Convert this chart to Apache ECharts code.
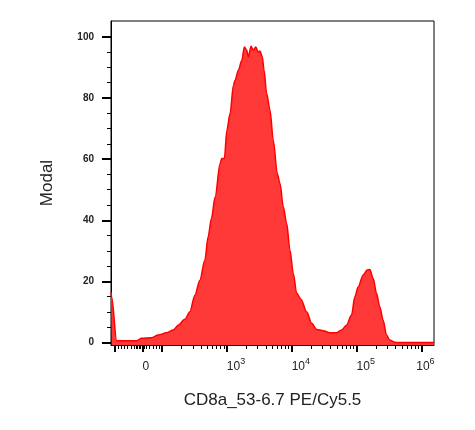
<!DOCTYPE html>
<html>
<head>
<meta charset="utf-8">
<script src="https://cdn.jsdelivr.net/npm/echarts@6/dist/echarts.min.js"></script>
<style>
  html, body { margin: 0; padding: 0; background: #fff; }
  #hist { width: 475px; height: 430px; }
</style>
</head>
<body>
<div id="hist"></div>
<script>
// channel position in display decades (10^3 -> 3), biex scale near zero
var channelPos = [1.215, 1.225, 1.302, 1.609, 1.686, 1.840, 1.943, 2.071, 2.174, 2.251, 2.354, 2.431,
    2.508, 2.585, 2.662, 2.712, 2.763, 2.820, 2.897, 2.923, 2.963, 3.000, 3.051, 3.102, 3.128,
    3.178, 3.231, 3.271, 3.308, 3.332, 3.374, 3.409, 3.446, 3.486, 3.512, 3.548, 3.574, 3.615,
    3.666, 3.717, 3.778, 3.820, 3.871, 3.923, 3.974, 4.025, 4.077, 4.143, 4.231, 4.308, 4.385,
    4.486, 4.589, 4.692, 4.769, 4.846, 4.923, 4.974, 5.025, 5.102, 5.163, 5.205, 5.256, 5.308,
    5.358, 5.409, 5.462, 5.512, 5.589, 5.666, 6.194];
var modalPct = [16.5, 14.9, 0.6, 0.6, 1.4, 1.6, 2.5, 3.2, 4.1, 5.7, 7.6, 10.1,
    15.5, 20.4, 27.0, 34.6, 40.6, 47.6, 58.6, 60.2, 60.2, 69.4, 74.9, 84.2, 85.8,
    89.1, 92.3, 96.7, 95.6, 93.4, 96.9, 95.6, 96.7, 95.0, 95.4, 93.4, 89.1, 81.4,
    76.0, 66.1, 55.3, 52.0, 44.4, 39.0, 30.2, 22.6, 16.1, 14.2, 10.1, 6.3, 4.3,
    3.9, 3.2, 3.2, 4.1, 5.7, 9.0, 15.0, 18.2, 22.1, 23.7, 23.9, 21.0, 16.1,
    11.7, 7.4, 2.5, 0.8, 0.1, 0, 0];

var xMajorTicks = [1.27, 1.70, 2, 3, 4, 5, 6];
var xMinorTicks = [1.32, 1.37, 1.42, 1.47, 1.53, 1.58, 1.60, 1.62, 1.65, 1.67, 1.73, 1.76,
    1.81, 1.86, 1.91, 1.96];
var xLabelPos = [1.70, 3, 4, 5, 5.92];
var xLabelText = ['{b|0}', '{b|10}{s|3}', '{b|10}{s|4}', '{b|10}{s|5}', '{b|10}{s|6}'];
var yMajorTicks = [0, 20, 40, 60, 80, 100];
var yMinorTicks = [5, 10, 15, 25, 30, 35, 45, 50, 55, 65, 70, 75, 85, 90, 95];

// log minor ticks for each full decade 10^2 .. 10^6
for (var d = 2; d < 6; d++) {
    for (var k = 2; k < 10; k++) {
        xMinorTicks.push(d + Math.log10(k));
    }
}

var points = [];
for (var i = 0; i < channelPos.length; i++) {
    points.push([channelPos[i], modalPct[i]]);
}

var xMin = 1.215, xMax = 6.194, yMin = -0.8, yMax = 105.2;

var myChart = echarts.init(document.getElementById('hist'));
var option = {
    animation: false,
    grid: {
        left: 111, right: 41, top: 21, bottom: 85,
        show: true, borderColor: '#000', borderWidth: 1
    },
    xAxis: [
        {
            type: 'value', position: 'bottom', min: xMin, max: xMax,
            name: 'CD8a_53-6.7 PE/Cy5.5', nameLocation: 'middle', nameGap: 47,
            nameTextStyle: { fontFamily: 'Liberation Sans', fontSize: 17, color: '#222' },
            axisLine: { onZero: false, lineStyle: { color: '#000', width: 1 } },
            axisTick: { customValues: xMajorTicks, length: 7, lineStyle: { color: '#000', width: 2 } },
            axisLabel: {
                customValues: xLabelPos, align: 'left', margin: 12,
                formatter: function (v) {
                    for (var j = 0; j < xLabelPos.length; j++) {
                        if (Math.abs(xLabelPos[j] - v) < 1e-6) return xLabelText[j];
                    }
                    return '';
                },
                rich: {
                    b: { fontFamily: 'Liberation Sans', fontSize: 12, color: '#222', lineHeight: 16, verticalAlign: 'bottom' },
                    s: { fontFamily: 'Liberation Sans', fontSize: 9, color: '#222', lineHeight: 16, verticalAlign: 'top' }
                }
            },
            splitLine: { show: false }
        },
        {
            type: 'value', position: 'bottom', min: xMin, max: xMax,
            axisLine: { show: false, onZero: false },
            axisTick: { customValues: xMinorTicks, length: 4, lineStyle: { color: '#000', width: 1 } },
            axisLabel: { show: false },
            splitLine: { show: false }
        }
    ],
    yAxis: [
        {
            type: 'value', position: 'left', min: yMin, max: yMax,
            name: 'Modal', nameLocation: 'middle', nameGap: 55,
            nameTextStyle: { fontFamily: 'Liberation Sans', fontSize: 17, color: '#222' },
            axisLine: { show: true, onZero: false, lineStyle: { color: '#000', width: 1 } },
            axisTick: { customValues: yMajorTicks, length: 9, lineStyle: { color: '#000', width: 2 } },
            axisLabel: {
                customValues: yMajorTicks, margin: 17,
                fontFamily: 'Liberation Sans', fontSize: 10, fontWeight: 'bold', color: '#222'
            },
            splitLine: { show: false }
        },
        {
            type: 'value', position: 'left', min: yMin, max: yMax,
            axisLine: { show: false, onZero: false },
            axisTick: { customValues: yMinorTicks, length: 4, lineStyle: { color: '#000', width: 1 } },
            axisLabel: { show: false },
            splitLine: { show: false }
        }
    ],
    series: [
        {
            type: 'line',
            xAxisIndex: 0,
            yAxisIndex: 0,
            data: points,
            symbol: 'none',
            smooth: 0.3,
            smoothMonotone: 'x',
            lineStyle: { color: '#ff0000', width: 1.5 },
            areaStyle: { color: '#ff3838', opacity: 1, origin: 'start' }
        }
    ]
};
myChart.setOption(option);

window.addEventListener('resize', function () {
    myChart.resize();
});
</script>
</body>
</html>
